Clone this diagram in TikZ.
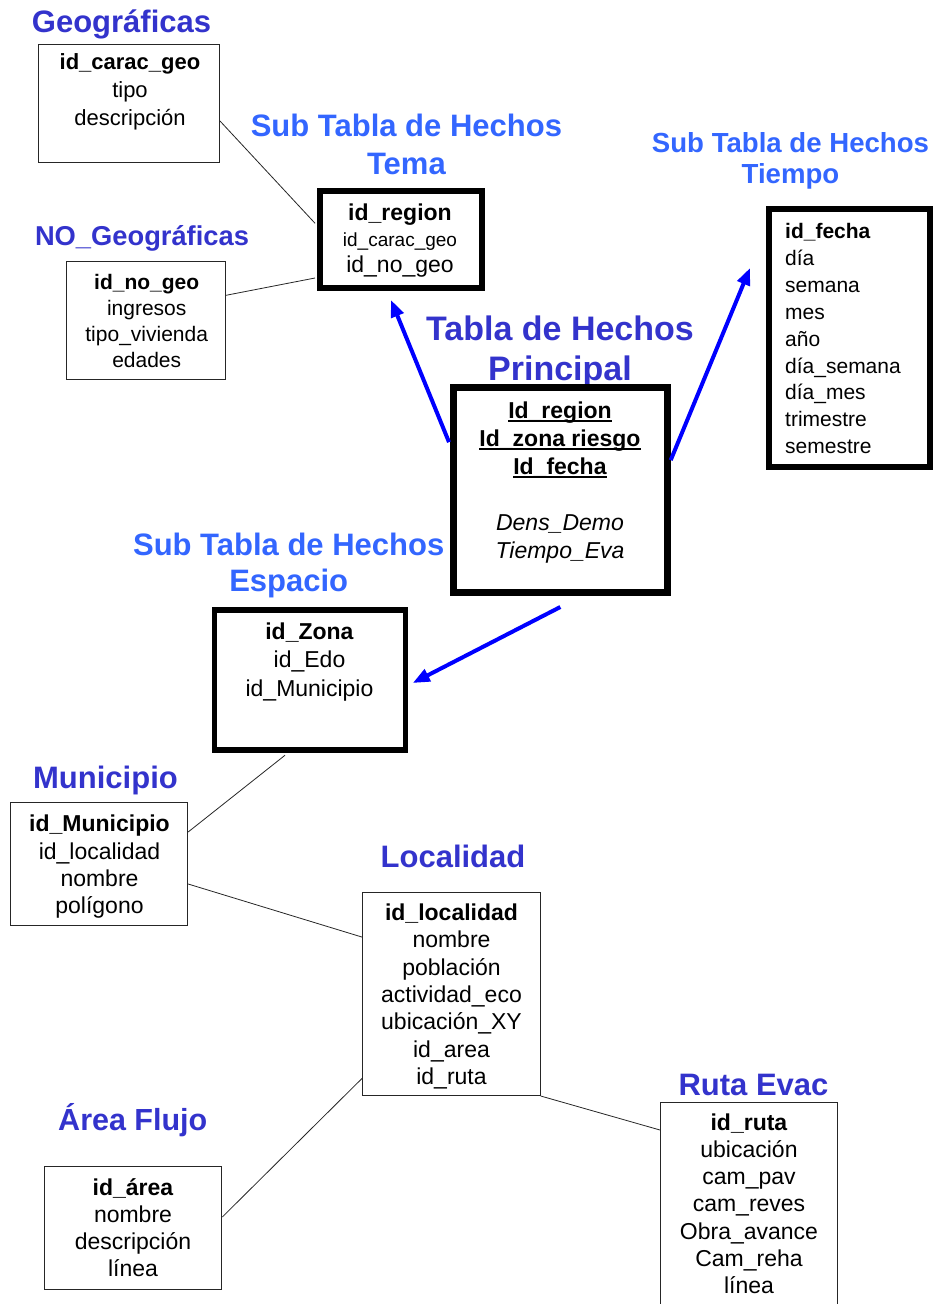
\documentclass[tikz,border=0pt]{standalone}
\usepackage{fontspec}
\setmainfont{Liberation Sans}
\usetikzlibrary{arrows.meta}

\definecolor{titleblue}{HTML}{3333CC}
\definecolor{subblue}{HTML}{3366FF}
\definecolor{linkblue}{HTML}{0000FF}

% font size / baseline skip shorthand
\newcommand{\setfs}[2]{\fontsize{#1}{#2}\selectfont}
% invisible strut fixing the height of a first line
\newcommand{\lnstrut}[1]{\rule{0pt}{#1}}
% key field with a heavy underline
\newcommand{\keyfld}[1]{\setbox0\hbox{#1}\rlap{\rule[-3.5pt]{\wd0}{1.8pt}}\box0}

\begin{document}
\begin{tikzpicture}[x=1pt, y=-1pt,
  thinbox/.style={draw=black!85, line width=1pt, fill=white, inner sep=0pt},
  thickbox/.style={draw=black, line width=#1, fill=white, inner sep=0pt},
  fields/.style={anchor=north, inner sep=0pt, align=center, font=\setfs{23}{27.4}},
  ttl/.style={inner sep=0pt, text=titleblue, font=\setfs{31}{37}\bfseries},
  subttl/.style={inner sep=0pt, anchor=north, align=center, text=subblue},
  link/.style={draw=black!85, line width=0.8pt},
  fact/.style={draw=linkblue, line width=4pt, -{Triangle[length=17pt,width=13pt]}}
]
\useasboundingbox (0,0) rectangle (935,1304);

% ---------- titles ----------
\node[ttl, anchor=base] (tGeo) at (121.5,32.5) {Geográficas};
\node[ttl, anchor=base, font=\setfs{27.3}{32}\bfseries] (tNoGeo) at (142,245) {NO\_Geográficas};
\node[subttl, font=\setfs{31}{37.3}\bfseries] (tTema) at (406.4,106.7)
  {\lnstrut{30pt}Sub Tabla de Hechos\\Tema};
\node[ttl, anchor=north, align=center, font=\setfs{34}{40}\bfseries] (tPrinc) at (560,307)
  {\lnstrut{33pt}Tabla de Hechos\\Principal};
\node[subttl, font=\setfs{27.6}{31}\bfseries] (tTiempo) at (790.5,125.3)
  {\lnstrut{27pt}Sub Tabla de Hechos\\Tiempo};
\node[subttl, font=\setfs{31}{36.7}\bfseries] (tEspacio) at (288.7,525)
  {\lnstrut{30pt}Sub Tabla de Hechos\\Espacio};
\node[ttl, anchor=base] (tMun) at (105.5,788.3) {Municipio};
\node[ttl, anchor=base] (tLoc) at (453,867.3) {Localidad};
\node[ttl, anchor=base, font=\setfs{30.5}{36}\bfseries] (tArea) at (132.8,1130.7) {Área Flujo};
\node[ttl, anchor=base] (tRuta) at (753.5,1095) {Ruta Evac};

% ---------- table frames ----------
\node[thinbox, minimum width=181pt, minimum height=118pt] (geo) at (129,103) {};
\node[thinbox, minimum width=159pt, minimum height=118.5pt] (nogeo) at (146,320.3) {};
\node[thickbox=6pt, minimum width=162pt, minimum height=97.5pt] (tema) at (401,239.25) {};
\node[thickbox=7pt, minimum width=213.7pt, minimum height=204.7pt] (princ) at (560.35,490.15) {};
\node[thickbox=6pt, minimum width=160.7pt, minimum height=258pt] (tiempo) at (849.35,338) {};
\node[thickbox=5.5pt, minimum width=191pt, minimum height=140pt] (espacio) at (310,680) {};
\node[thinbox, minimum width=177pt, minimum height=122.5pt] (mun) at (99.15,864) {};
\node[thinbox, minimum width=177.4pt, minimum height=202.7pt] (loc) at (451.5,994.15) {};
\node[thinbox, minimum width=177.3pt, minimum height=123pt] (area) at (133.15,1228) {};
\node[thinbox, minimum width=177.3pt, minimum height=227pt] (ruta) at (749.15,1216) {};

% ---------- field lists ----------
\node[fields, font=\setfs{22}{28}] (geoF) at (130,47)
  {\lnstrut{22pt}\textbf{id\_carac\_geo}\\tipo\\descripción};
\node[fields, font=\setfs{21}{26.1}] (nogeoF) at (146.7,268)
  {\lnstrut{21pt}\textbf{id\_no\_geo}\\ingresos\\tipo\_vivienda\\edades};
\node[fields, font=\setfs{23}{26.3}] (temaF) at (400,198)
  {\lnstrut{22pt}\textbf{id\_region}\\{\setfs{19}{26.3}id\_carac\_geo}\\id\_no\_geo};
\node[fields, font=\setfs{23}{28}] (princF) at (560,396.3)
  {\lnstrut{22pt}\keyfld{\textbf{Id\_region}}\\\keyfld{\textbf{Id\_zona riesgo}}\\\keyfld{\textbf{Id\_fecha}}\\[28pt]\textit{Dens\_Demo}\\\textit{Tiempo\_Eva}};
\node[fields, anchor=north west, align=left, font=\setfs{21}{26.9}] (tiempoF) at (785,217.3)
  {\lnstrut{21pt}\textbf{id\_fecha}\\día\\semana\\mes\\año\\día\_semana\\día\_mes\\trimestre\\semestre};
\node[fields, font=\setfs{23}{28.3}] (espacioF) at (309.5,617.3)
  {\lnstrut{22pt}\textbf{id\_Zona}\\id\_Edo\\id\_Municipio};
\node[fields, font=\setfs{23}{27.2}] (munF) at (99.5,809.7)
  {\lnstrut{22pt}\textbf{id\_Municipio}\\id\_localidad\\nombre\\polígono};
\node[fields, font=\setfs{23}{27.4}] (locF) at (451.5,898)
  {\lnstrut{22pt}\textbf{id\_localidad}\\nombre\\población\\actividad\_eco\\ubicación\_XY\\id\_area\\id\_ruta};
\node[fields, font=\setfs{23}{27}] (areaF) at (133,1173)
  {\lnstrut{22pt}\textbf{id\_área}\\nombre\\descripción\\línea};
\node[fields, font=\setfs{23}{27.2}] (rutaF) at (749,1108)
  {\lnstrut{22pt}\textbf{id\_ruta}\\ubicación\\cam\_pav\\cam\_reves\\Obra\_avance\\Cam\_reha\\línea};

% ---------- thin relations ----------
\draw[link] ([yshift=-18pt]geo.east) -- ([xshift=-2pt,yshift=16pt]tema.west);
\draw[link] ([yshift=25pt]nogeo.east) -- ([xshift=-2pt,yshift=-38.75pt]tema.west);
\draw[link] ([xshift=-25pt,yshift=-2.5pt]espacio.south) -- ([yshift=32pt]mun.east);
\draw[link] ([yshift=-20pt]mun.east) -- ([yshift=57pt]loc.west);
\draw[link] ([yshift=-84pt]loc.west) -- ([yshift=11pt]area.east);
\draw[link] (loc.south east) -- ([yshift=-28pt]ruta.north west);

% ---------- fact table links ----------
\draw[fact] ([xshift=-1pt,yshift=48pt]princ.west) -- ([xshift=-10pt,yshift=-9pt]tema.south);
\draw[fact] ([yshift=30pt]princ.east) -- ([xshift=-16pt,yshift=70pt]tiempo.west);
\draw[fact] ([yshift=-11pt]princ.south) -- ([xshift=4.5pt,yshift=-3pt]espacio.east);
\end{tikzpicture}
\end{document}
